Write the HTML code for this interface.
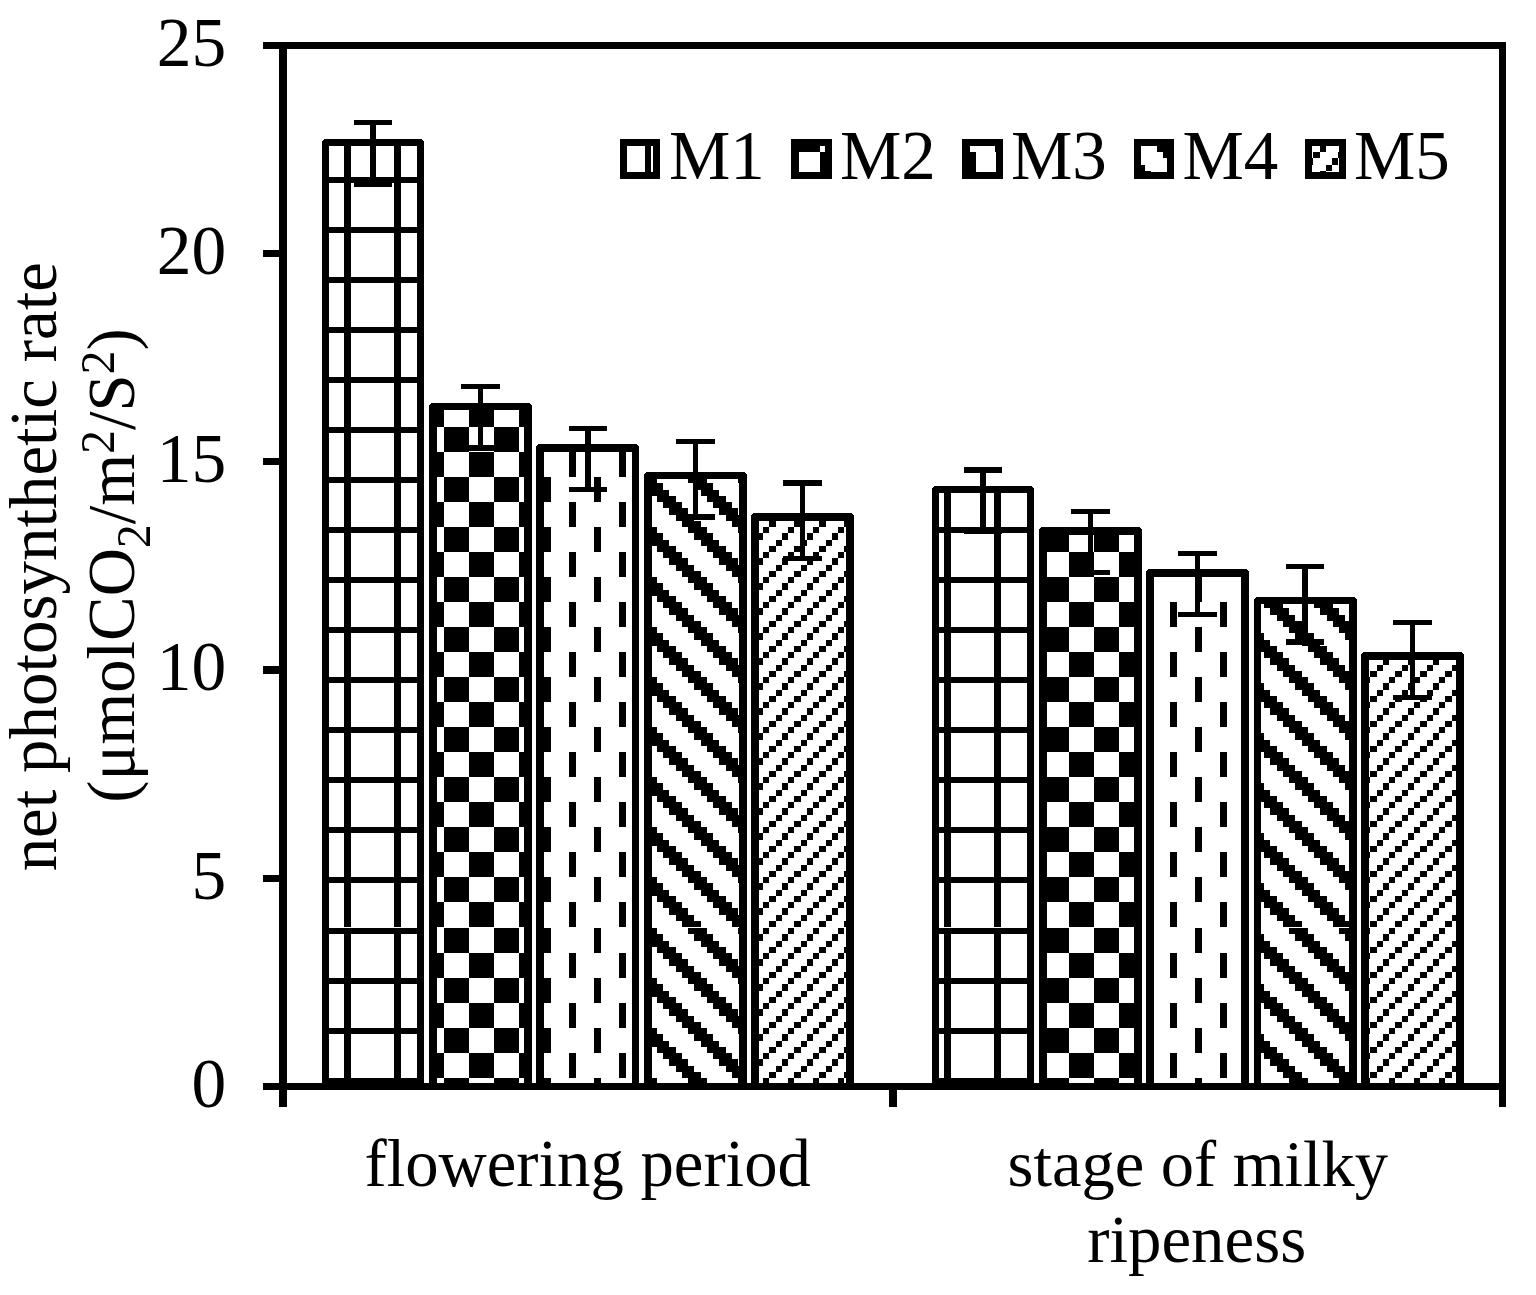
<!DOCTYPE html>
<html><head><meta charset="utf-8"><title>net photosynthetic rate</title>
<style>html,body{margin:0;padding:0;background:#fff;}svg{display:block}text{font-family:"Liberation Serif","Times New Roman",serif;font-size:67.5px;fill:#000}</style></head>
<body>
<svg width="1536" height="1295" viewBox="0 0 1536 1295">
<defs><pattern id="m1" patternUnits="userSpaceOnUse" x="44" y="27" width="50" height="50"><rect width="50" height="50" fill="#fff"/><g fill="#000"><rect x="0" y="0" width="50" height="6"/><rect x="0" y="6" width="7" height="44"/></g></pattern><pattern id="m1b" patternUnits="userSpaceOnUse" x="45" y="27" width="50" height="50"><rect width="50" height="50" fill="#fff"/><g fill="#000"><rect x="0" y="0" width="50" height="6"/><rect x="0" y="6" width="7" height="44"/></g></pattern><pattern id="m1c" patternUnits="userSpaceOnUse" x="45" y="27" width="50" height="50"><rect width="50" height="50" fill="#fff"/><g fill="#000"><rect x="0" y="0" width="50" height="6"/><rect x="0" y="6" width="6" height="44"/></g></pattern><pattern id="m1d" patternUnits="userSpaceOnUse" x="44" y="28" width="50" height="50"><rect width="50" height="50" fill="#fff"/><g fill="#000"><rect x="0" y="0" width="50" height="6"/><rect x="0" y="6" width="7" height="44"/></g></pattern><pattern id="m1e" patternUnits="userSpaceOnUse" x="45" y="28" width="50" height="50"><rect width="50" height="50" fill="#fff"/><g fill="#000"><rect x="0" y="0" width="50" height="6"/><rect x="0" y="6" width="7" height="44"/></g></pattern><pattern id="m2" patternUnits="userSpaceOnUse" x="44" y="27" width="50" height="50"><rect width="50" height="50" fill="#fff"/><g fill="#000"><rect x="0" y="0" width="25" height="25"/><rect x="25" y="25" width="25" height="25"/></g></pattern><pattern id="m2b" patternUnits="userSpaceOnUse" x="45" y="27" width="50" height="50"><rect width="50" height="50" fill="#fff"/><g fill="#000"><rect x="0" y="0" width="25" height="25"/><rect x="25" y="25" width="25" height="25"/></g></pattern><pattern id="m2c" patternUnits="userSpaceOnUse" x="45" y="27" width="50" height="50"><rect width="50" height="50" fill="#fff"/><g fill="#000"><rect x="0" y="0" width="25" height="25"/><rect x="25" y="25" width="25" height="25"/></g></pattern><pattern id="m2d" patternUnits="userSpaceOnUse" x="44" y="28" width="50" height="50"><rect width="50" height="50" fill="#fff"/><g fill="#000"><rect x="0" y="0" width="25" height="25"/><rect x="25" y="25" width="25" height="25"/></g></pattern><pattern id="m2e" patternUnits="userSpaceOnUse" x="45" y="28" width="50" height="50"><rect width="50" height="50" fill="#fff"/><g fill="#000"><rect x="0" y="0" width="25" height="25"/><rect x="25" y="25" width="25" height="25"/></g></pattern><pattern id="m3" patternUnits="userSpaceOnUse" x="44" y="27" width="50" height="50"><rect width="50" height="50" fill="#fff"/><g fill="#000"><rect x="0" y="0" width="7" height="25"/><rect x="25" y="25" width="7" height="25"/></g></pattern><pattern id="m3b" patternUnits="userSpaceOnUse" x="45" y="27" width="50" height="50"><rect width="50" height="50" fill="#fff"/><g fill="#000"><rect x="0" y="0" width="7" height="25"/><rect x="25" y="25" width="7" height="25"/></g></pattern><pattern id="m3c" patternUnits="userSpaceOnUse" x="45" y="27" width="50" height="50"><rect width="50" height="50" fill="#fff"/><g fill="#000"><rect x="0" y="0" width="6" height="25"/><rect x="25" y="25" width="6" height="25"/></g></pattern><pattern id="m3d" patternUnits="userSpaceOnUse" x="44" y="28" width="50" height="50"><rect width="50" height="50" fill="#fff"/><g fill="#000"><rect x="0" y="0" width="7" height="25"/><rect x="25" y="25" width="7" height="25"/></g></pattern><pattern id="m3e" patternUnits="userSpaceOnUse" x="45" y="28" width="50" height="50"><rect width="50" height="50" fill="#fff"/><g fill="#000"><rect x="0" y="0" width="7" height="25"/><rect x="25" y="25" width="7" height="25"/></g></pattern><pattern id="m4" patternUnits="userSpaceOnUse" x="44" y="27" width="50" height="50"><rect width="50" height="50" fill="#fff"/><g fill="#000"><rect x="44" y="0" width="6" height="6"/><rect x="0" y="0" width="7" height="6"/><rect x="7" y="0" width="6" height="6"/><rect x="0" y="6" width="7" height="7"/><rect x="7" y="6" width="6" height="7"/><rect x="13" y="6" width="6" height="7"/><rect x="7" y="13" width="6" height="6"/><rect x="13" y="13" width="6" height="6"/><rect x="19" y="13" width="6" height="6"/><rect x="13" y="19" width="6" height="6"/><rect x="19" y="19" width="6" height="6"/><rect x="25" y="19" width="7" height="6"/><rect x="19" y="25" width="6" height="6"/><rect x="25" y="25" width="7" height="6"/><rect x="32" y="25" width="6" height="6"/><rect x="25" y="31" width="7" height="7"/><rect x="32" y="31" width="6" height="7"/><rect x="38" y="31" width="6" height="7"/><rect x="32" y="38" width="6" height="6"/><rect x="38" y="38" width="6" height="6"/><rect x="44" y="38" width="6" height="6"/><rect x="38" y="44" width="6" height="6"/><rect x="44" y="44" width="6" height="6"/><rect x="0" y="44" width="7" height="6"/></g></pattern><pattern id="m4b" patternUnits="userSpaceOnUse" x="45" y="27" width="50" height="50"><rect width="50" height="50" fill="#fff"/><g fill="#000"><rect x="44" y="0" width="6" height="6"/><rect x="0" y="0" width="7" height="6"/><rect x="7" y="0" width="6" height="6"/><rect x="0" y="6" width="7" height="7"/><rect x="7" y="6" width="6" height="7"/><rect x="13" y="6" width="6" height="7"/><rect x="7" y="13" width="6" height="6"/><rect x="13" y="13" width="6" height="6"/><rect x="19" y="13" width="6" height="6"/><rect x="13" y="19" width="6" height="6"/><rect x="19" y="19" width="6" height="6"/><rect x="25" y="19" width="7" height="6"/><rect x="19" y="25" width="6" height="6"/><rect x="25" y="25" width="7" height="6"/><rect x="32" y="25" width="6" height="6"/><rect x="25" y="31" width="7" height="7"/><rect x="32" y="31" width="6" height="7"/><rect x="38" y="31" width="6" height="7"/><rect x="32" y="38" width="6" height="6"/><rect x="38" y="38" width="6" height="6"/><rect x="44" y="38" width="6" height="6"/><rect x="38" y="44" width="6" height="6"/><rect x="44" y="44" width="6" height="6"/><rect x="0" y="44" width="7" height="6"/></g></pattern><pattern id="m4c" patternUnits="userSpaceOnUse" x="45" y="27" width="50" height="50"><rect width="50" height="50" fill="#fff"/><g fill="#000"><rect x="43" y="0" width="7" height="6"/><rect x="0" y="0" width="6" height="6"/><rect x="6" y="0" width="6" height="6"/><rect x="0" y="6" width="6" height="7"/><rect x="6" y="6" width="6" height="7"/><rect x="12" y="6" width="6" height="7"/><rect x="6" y="13" width="6" height="6"/><rect x="12" y="13" width="6" height="6"/><rect x="18" y="13" width="7" height="6"/><rect x="12" y="19" width="6" height="6"/><rect x="18" y="19" width="7" height="6"/><rect x="25" y="19" width="6" height="6"/><rect x="18" y="25" width="7" height="6"/><rect x="25" y="25" width="6" height="6"/><rect x="31" y="25" width="6" height="6"/><rect x="25" y="31" width="6" height="7"/><rect x="31" y="31" width="6" height="7"/><rect x="37" y="31" width="6" height="7"/><rect x="31" y="38" width="6" height="6"/><rect x="37" y="38" width="6" height="6"/><rect x="43" y="38" width="7" height="6"/><rect x="37" y="44" width="6" height="6"/><rect x="43" y="44" width="7" height="6"/><rect x="0" y="44" width="6" height="6"/></g></pattern><pattern id="m4d" patternUnits="userSpaceOnUse" x="44" y="28" width="50" height="50"><rect width="50" height="50" fill="#fff"/><g fill="#000"><rect x="44" y="0" width="6" height="6"/><rect x="0" y="0" width="7" height="6"/><rect x="7" y="0" width="6" height="6"/><rect x="0" y="6" width="7" height="7"/><rect x="7" y="6" width="6" height="7"/><rect x="13" y="6" width="6" height="7"/><rect x="7" y="13" width="6" height="6"/><rect x="13" y="13" width="6" height="6"/><rect x="19" y="13" width="6" height="6"/><rect x="13" y="19" width="6" height="6"/><rect x="19" y="19" width="6" height="6"/><rect x="25" y="19" width="7" height="6"/><rect x="19" y="25" width="6" height="6"/><rect x="25" y="25" width="7" height="6"/><rect x="32" y="25" width="6" height="6"/><rect x="25" y="31" width="7" height="7"/><rect x="32" y="31" width="6" height="7"/><rect x="38" y="31" width="6" height="7"/><rect x="32" y="38" width="6" height="6"/><rect x="38" y="38" width="6" height="6"/><rect x="44" y="38" width="6" height="6"/><rect x="38" y="44" width="6" height="6"/><rect x="44" y="44" width="6" height="6"/><rect x="0" y="44" width="7" height="6"/></g></pattern><pattern id="m4e" patternUnits="userSpaceOnUse" x="45" y="28" width="50" height="50"><rect width="50" height="50" fill="#fff"/><g fill="#000"><rect x="44" y="0" width="6" height="6"/><rect x="0" y="0" width="7" height="6"/><rect x="7" y="0" width="6" height="6"/><rect x="0" y="6" width="7" height="7"/><rect x="7" y="6" width="6" height="7"/><rect x="13" y="6" width="6" height="7"/><rect x="7" y="13" width="6" height="6"/><rect x="13" y="13" width="6" height="6"/><rect x="19" y="13" width="6" height="6"/><rect x="13" y="19" width="6" height="6"/><rect x="19" y="19" width="6" height="6"/><rect x="25" y="19" width="7" height="6"/><rect x="19" y="25" width="6" height="6"/><rect x="25" y="25" width="7" height="6"/><rect x="32" y="25" width="6" height="6"/><rect x="25" y="31" width="7" height="7"/><rect x="32" y="31" width="6" height="7"/><rect x="38" y="31" width="6" height="7"/><rect x="32" y="38" width="6" height="6"/><rect x="38" y="38" width="6" height="6"/><rect x="44" y="38" width="6" height="6"/><rect x="38" y="44" width="6" height="6"/><rect x="44" y="44" width="6" height="6"/><rect x="0" y="44" width="7" height="6"/></g></pattern><pattern id="m5" patternUnits="userSpaceOnUse" x="44" y="27" width="50" height="50"><rect width="50" height="50" fill="#fff"/><g fill="#000"><rect x="19" y="0" width="6" height="6"/><rect x="44" y="0" width="6" height="6"/><rect x="13" y="6" width="6" height="7"/><rect x="38" y="6" width="6" height="7"/><rect x="7" y="13" width="6" height="6"/><rect x="32" y="13" width="6" height="6"/><rect x="0" y="19" width="7" height="6"/><rect x="25" y="19" width="7" height="6"/><rect x="19" y="25" width="6" height="6"/><rect x="44" y="25" width="6" height="6"/><rect x="13" y="31" width="6" height="7"/><rect x="38" y="31" width="6" height="7"/><rect x="7" y="38" width="6" height="6"/><rect x="32" y="38" width="6" height="6"/><rect x="0" y="44" width="7" height="6"/><rect x="25" y="44" width="7" height="6"/></g></pattern><pattern id="m5b" patternUnits="userSpaceOnUse" x="45" y="27" width="50" height="50"><rect width="50" height="50" fill="#fff"/><g fill="#000"><rect x="19" y="0" width="6" height="6"/><rect x="44" y="0" width="6" height="6"/><rect x="13" y="6" width="6" height="7"/><rect x="38" y="6" width="6" height="7"/><rect x="7" y="13" width="6" height="6"/><rect x="32" y="13" width="6" height="6"/><rect x="0" y="19" width="7" height="6"/><rect x="25" y="19" width="7" height="6"/><rect x="19" y="25" width="6" height="6"/><rect x="44" y="25" width="6" height="6"/><rect x="13" y="31" width="6" height="7"/><rect x="38" y="31" width="6" height="7"/><rect x="7" y="38" width="6" height="6"/><rect x="32" y="38" width="6" height="6"/><rect x="0" y="44" width="7" height="6"/><rect x="25" y="44" width="7" height="6"/></g></pattern><pattern id="m5c" patternUnits="userSpaceOnUse" x="45" y="27" width="50" height="50"><rect width="50" height="50" fill="#fff"/><g fill="#000"><rect x="18" y="0" width="7" height="6"/><rect x="43" y="0" width="7" height="6"/><rect x="12" y="6" width="6" height="7"/><rect x="37" y="6" width="6" height="7"/><rect x="6" y="13" width="6" height="6"/><rect x="31" y="13" width="6" height="6"/><rect x="0" y="19" width="6" height="6"/><rect x="25" y="19" width="6" height="6"/><rect x="18" y="25" width="7" height="6"/><rect x="43" y="25" width="7" height="6"/><rect x="12" y="31" width="6" height="7"/><rect x="37" y="31" width="6" height="7"/><rect x="6" y="38" width="6" height="6"/><rect x="31" y="38" width="6" height="6"/><rect x="0" y="44" width="6" height="6"/><rect x="25" y="44" width="6" height="6"/></g></pattern><pattern id="m5d" patternUnits="userSpaceOnUse" x="44" y="28" width="50" height="50"><rect width="50" height="50" fill="#fff"/><g fill="#000"><rect x="19" y="0" width="6" height="6"/><rect x="44" y="0" width="6" height="6"/><rect x="13" y="6" width="6" height="7"/><rect x="38" y="6" width="6" height="7"/><rect x="7" y="13" width="6" height="6"/><rect x="32" y="13" width="6" height="6"/><rect x="0" y="19" width="7" height="6"/><rect x="25" y="19" width="7" height="6"/><rect x="19" y="25" width="6" height="6"/><rect x="44" y="25" width="6" height="6"/><rect x="13" y="31" width="6" height="7"/><rect x="38" y="31" width="6" height="7"/><rect x="7" y="38" width="6" height="6"/><rect x="32" y="38" width="6" height="6"/><rect x="0" y="44" width="7" height="6"/><rect x="25" y="44" width="7" height="6"/></g></pattern><pattern id="m5e" patternUnits="userSpaceOnUse" x="45" y="28" width="50" height="50"><rect width="50" height="50" fill="#fff"/><g fill="#000"><rect x="19" y="0" width="6" height="6"/><rect x="44" y="0" width="6" height="6"/><rect x="13" y="6" width="6" height="7"/><rect x="38" y="6" width="6" height="7"/><rect x="7" y="13" width="6" height="6"/><rect x="32" y="13" width="6" height="6"/><rect x="0" y="19" width="7" height="6"/><rect x="25" y="19" width="7" height="6"/><rect x="19" y="25" width="6" height="6"/><rect x="44" y="25" width="6" height="6"/><rect x="13" y="31" width="6" height="7"/><rect x="38" y="31" width="6" height="7"/><rect x="7" y="38" width="6" height="6"/><rect x="32" y="38" width="6" height="6"/><rect x="0" y="44" width="7" height="6"/><rect x="25" y="44" width="7" height="6"/></g></pattern></defs>
<rect width="1536" height="1295" fill="#fff"/>
<g fill="#000" shape-rendering="crispEdges"><rect x="329" y="146" width="88" height="781" fill="url(#m1)"/><rect x="329" y="928" width="88" height="162" fill="url(#m1d)"/><path d="M322 1090V141H323V140H324V139H422V140H423V141H424V1090H417V146H329V1090Z"/><rect x="437" y="410" width="87" height="517" fill="url(#m2)"/><rect x="437" y="928" width="87" height="162" fill="url(#m2d)"/><path d="M429 1090V405H430V404H431V403H530V404H531V405H532V1090H524V410H437V1090Z"/><rect x="544" y="452" width="88" height="475" fill="url(#m3)"/><rect x="544" y="928" width="88" height="162" fill="url(#m3d)"/><path d="M536 1090V446H537V445H538V444H637V445H638V446H639V1090H632V452H544V1090Z"/><rect x="652" y="479" width="87" height="448" fill="url(#m4)"/><rect x="652" y="928" width="87" height="162" fill="url(#m4d)"/><path d="M644 1090V474H645V473H646V472H745V473H746V474H747V1090H739V479H652V1090Z"/><rect x="759" y="521" width="87" height="406" fill="url(#m5)"/><rect x="759" y="928" width="87" height="162" fill="url(#m5d)"/><path d="M751 1090V515H752V514H753V513H852V514H853V515H854V1090H846V521H759V1090Z"/><path d="M354 120H392V125H376V182H392V187H354V182H370V125H354Z"/><path d="M461 384H500V389H483V445H500V451H461V445H478V389H461Z"/><path d="M569 426H607V431H591V487H607V492H569V487H585V431H569Z"/><path d="M676 439H715V444H698V514H715V520H676V514H693V444H676Z"/><path d="M783 480H822V486H805V556H822V561H783V556H800V486H783Z"/><rect x="939" y="493" width="88" height="434" fill="url(#m1)"/><rect x="939" y="928" width="88" height="162" fill="url(#m1d)"/><path d="M932 1090V488H933V487H934V486H1032V487H1033V488H1034V1090H1027V493H939V1090Z"/><rect x="1047" y="535" width="87" height="392" fill="url(#m2)"/><rect x="1047" y="928" width="87" height="162" fill="url(#m2d)"/><path d="M1039 1090V529H1040V528H1041V527H1140V528H1141V529H1142V1090H1134V535H1047V1090Z"/><rect x="1154" y="577" width="87" height="350" fill="url(#m3b)"/><rect x="1154" y="928" width="87" height="162" fill="url(#m3e)"/><path d="M1146 1090V571H1147V570H1148V569H1247V570H1248V571H1249V1090H1241V577H1154V1090Z"/><rect x="1261" y="604" width="88" height="323" fill="url(#m4b)"/><rect x="1261" y="928" width="88" height="162" fill="url(#m4e)"/><path d="M1254 1090V599H1255V598H1256V597H1355V598H1356V599H1357V1090H1349V604H1261V1090Z"/><rect x="1369" y="660" width="87" height="267" fill="url(#m5b)"/><rect x="1369" y="928" width="87" height="162" fill="url(#m5e)"/><path d="M1361 1090V654H1362V653H1363V652H1462V653H1463V654H1464V1090H1456V660H1369V1090Z"/><path d="M964 467H1002V473H986V528H1002V534H964V528H980V473H964Z"/><path d="M1071 509H1110V514H1093V570H1110V575H1071V570H1088V514H1071Z"/><path d="M1178 551H1217V556H1200V612H1217V617H1178V612H1195V556H1178Z"/><path d="M1286 564H1324V569H1308V639H1324V645H1286V639H1302V569H1286Z"/><path d="M1393 620H1432V625H1415V695H1432V700H1393V695H1410V625H1393Z"/></g>
<g fill="#000"><rect x="263" y="42" width="1243" height="7"/><rect x="279" y="42" width="8" height="1065"/><rect x="1499" y="42" width="7" height="1065"/><rect x="263" y="1083" width="1243" height="7"/><rect x="889" y="1090" width="8" height="17"/><rect x="263" y="250" width="17" height="7"/><rect x="263" y="458" width="17" height="7"/><rect x="263" y="666" width="17" height="8"/><rect x="263" y="875" width="17" height="7"/></g>
<g><text x="226.3" y="65.7" text-anchor="end" style="font-size:69.5px">25</text><text x="226.3" y="273.7" text-anchor="end" style="font-size:69.5px">20</text><text x="226.3" y="481.7" text-anchor="end" style="font-size:69.5px">15</text><text x="226.3" y="690.1" text-anchor="end" style="font-size:69.5px">10</text><text x="226.3" y="898.7" text-anchor="end" style="font-size:69.5px">5</text><text x="226.3" y="1106.7" text-anchor="end" style="font-size:69.5px">0</text></g>
<g shape-rendering="crispEdges"><rect x="620" y="139" width="40" height="40" fill="url(#m1c)"/><path d="M620 139H660V179H620ZM627 146V172H653V146Z" fill-rule="evenodd"/><text x="668.9" y="178.6" style="font-size:69px">M1</text><rect x="791" y="139" width="41" height="40" fill="url(#m2c)"/><path d="M791 139H832V179H791ZM799 146V172H825V146Z" fill-rule="evenodd"/><text x="839.9" y="178.6" style="font-size:69px">M2</text><rect x="962" y="139" width="41" height="40" fill="url(#m3c)"/><path d="M962 139H1003V179H962ZM970 146V172H996V146Z" fill-rule="evenodd"/><text x="1010.9" y="178.6" style="font-size:69px">M3</text><rect x="1134" y="139" width="40" height="40" fill="url(#m4c)"/><path d="M1134 139H1174V179H1134ZM1141 146V172H1167V146Z" fill-rule="evenodd"/><text x="1182.4" y="178.6" style="font-size:69px">M4</text><rect x="1305" y="139" width="41" height="40" fill="url(#m5c)"/><path d="M1305 139H1346V179H1305ZM1312 146V172H1339V146Z" fill-rule="evenodd"/><text x="1353.9" y="178.6" style="font-size:69px">M5</text></g>
<g><text x="587.7" y="1185.5" text-anchor="middle" style="font-size:66.7px">flowering period</text><text x="1197.8" y="1186.2" text-anchor="middle" style="font-size:66.5px">stage of milky</text><text x="1196.7" y="1261.5" text-anchor="middle" style="font-size:66.8px">ripeness</text></g>
<g><text transform="translate(56 566.7) rotate(-90)" text-anchor="middle" style="font-size:66.9px">net photosynthetic rate</text><text transform="translate(133.8 565.6) rotate(-90)" text-anchor="middle" style="font-size:66.8px">(μmolCO<tspan font-size="47.5" dy="16">2</tspan><tspan dy="-16">/m</tspan><tspan font-size="47.5" dy="-19.5">2</tspan><tspan dy="19.5">/S</tspan><tspan font-size="47.5" dy="-19.5">2</tspan><tspan dy="19.5">)</tspan></text></g>
</svg>
</body></html>
